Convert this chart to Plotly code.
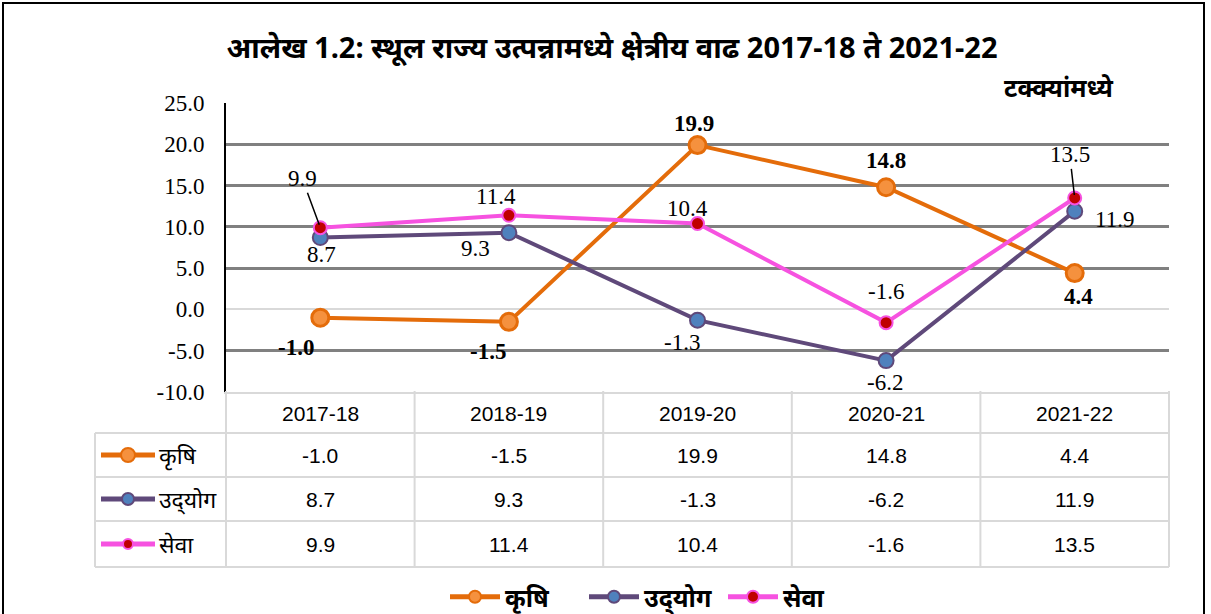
import plotly.graph_objects as go

# ---------------- data ----------------
years = ["2017-18", "2018-19", "2019-20", "2020-21", "2021-22"]
krishi = [-1.0, -1.5, 19.9, 14.8, 4.4]
udyog = [8.7, 9.3, -1.3, -6.2, 11.9]
seva = [9.9, 11.4, 10.4, -1.6, 13.5]
series_names = ["कृषि", "उद्\u200Cयोग", "सेवा"]
y_ticks = [-10, -5, 0, 5, 10, 15, 20, 25]
title_text = "आलेख 1.2: स्थूल राज्य उत्पन्नामध्ये क्षेत्रीय वाढ 2017-18 ते 2021-22"
unit_text = "टक्क्यांमध्ये"

# ---------------- styles ----------------
ORANGE, ORANGE_FILL = "#E46C0A", "#F5913E"
PURPLE, BLUE = "#5F497A", "#4F81BD"
PINK, RED = "#F652E0", "#C00000"
GRID_LIGHT = "#D9D9D9"
SERIF = "Liberation Serif, Times New Roman, serif"
SANS = "Liberation Sans, Arial, sans-serif"
DEVA = "Noto Sans, sans-serif"

styles = [
    dict(line=dict(color=ORANGE, width=4),
         marker=dict(size=17, color=ORANGE_FILL, line=dict(color=ORANGE, width=3))),
    dict(line=dict(color=PURPLE, width=4),
         marker=dict(size=15, color=BLUE, line=dict(color=PURPLE, width=2))),
    dict(line=dict(color=PINK, width=4),
         marker=dict(size=13, color=RED, line=dict(color=PINK, width=2))),
]
all_series = [krishi, udyog, seva]

# label offsets (pixels) per series, per point: (dx, dy), dy positive = up
label_offsets = [
    [(-24, -30), (-21, -30), (-4, 22), (0, 27), (4, -23)],
    [(1, -17), (-33, -16), (-16, -22), (-1, -22), (40, -8)],
    [(-18, 49), (-13, 19), (-10, 15), (0, 31), (-5, 43)],
]
leader = [[False] * 5, [False] * 5, [True, False, False, False, True]]
bold_series = [True, False, False]

# pixel geometry helpers (plot area: x 226..1169, y 103..392)
W, H = 1211, 614
L, R, T, B = 226, 1169, 103, 392
def pxx(x):
    return (x - L) / (R - L)
def pxy(y):
    return (B - y) / (B - T)

fig = go.Figure()
for name, vals, st in zip(series_names, all_series, styles):
    fig.add_trace(go.Scatter(x=years, y=vals, name=f"<b>{name}</b>", mode="lines+markers",
                             line=st["line"], marker=st["marker"]))

annotations = []
for si, vals in enumerate(all_series):
    for i, (yr, v) in enumerate(zip(years, vals)):
        dx, dy = label_offsets[si][i]
        txt = f"{v:.1f}"
        if bold_series[si]:
            txt = f"<b>{txt}</b>"
        if leader[si][i]:
            annotations.append(dict(x=yr, y=v, xref="x", yref="y", text=txt,
                                    showarrow=True, arrowhead=0, arrowwidth=1.5,
                                    arrowcolor="black", ax=dx, ay=-dy, standoff=3,
                                    font=dict(family=SERIF, size=23, color="black")))
        else:
            annotations.append(dict(x=yr, y=v, xref="x", yref="y", text=txt,
                                    showarrow=False, xshift=dx, yshift=dy,
                                    font=dict(family=SERIF, size=23, color="black")))

# ---------------- data table below the plot ----------------
row_y = [413, 455, 499, 544]          # centers in px
row_edges = [393, 433, 477, 521, 567]  # horizontal borders in px
shapes = []
line_style = dict(color=GRID_LIGHT, width=2)
shapes.append(dict(type="line", xref="paper", yref="paper", x0=0, x1=1,
                   y0=pxy(row_edges[0]), y1=pxy(row_edges[0]), line=line_style))
for ye in row_edges[1:]:
    shapes.append(dict(type="line", xref="paper", yref="paper", x0=pxx(95), x1=1,
                       y0=pxy(ye), y1=pxy(ye), line=line_style))
n = len(years)
for i in range(n + 1):
    shapes.append(dict(type="line", xref="paper", yref="paper", x0=i / n, x1=i / n,
                       y0=pxy(row_edges[0] - 2), y1=pxy(row_edges[-1]), line=line_style))
shapes.append(dict(type="line", xref="paper", yref="paper", x0=pxx(95), x1=pxx(95),
                   y0=pxy(row_edges[1]), y1=pxy(row_edges[-1]), line=line_style))

for yr in years:
    annotations.append(dict(x=yr, y=pxy(row_y[0]), xref="x", yref="paper", text=yr,
                            showarrow=False, yanchor="middle", xanchor="center",
                            font=dict(family=SANS, size=21, color="black")))
for si, (name, vals, st) in enumerate(zip(series_names, all_series, styles)):
    yc = pxy(row_y[si + 1])
    for yr, v in zip(years, vals):
        annotations.append(dict(x=yr, y=yc, xref="x", yref="paper", text=f"{v:.1f}",
                                showarrow=False, yanchor="middle", xanchor="center",
                                font=dict(family=SANS, size=21, color="black")))
    shapes.append(dict(type="line", xref="paper", yref="paper", x0=pxx(101), x1=pxx(155),
                       y0=yc, y1=yc, line=dict(color=st["line"]["color"], width=5)))
    r = st["marker"]["size"] / 2 - 1.5
    shapes.append(dict(type="circle", xref="paper", yref="paper",
                       xsizemode="pixel", ysizemode="pixel",
                       xanchor=pxx(128), yanchor=yc, x0=-r, x1=r, y0=-r, y1=r,
                       fillcolor=st["marker"]["color"],
                       line=dict(color=st["marker"]["line"]["color"], width=2)))
    annotations.append(dict(x=pxx(157), y=yc, xref="paper", yref="paper", text=name,
                            xanchor="left", yanchor="middle", showarrow=False,
                            font=dict(family=DEVA, size=23, color="black")))

# unit text
annotations.append(dict(x=pxx(1116), y=pxy(87), xref="paper", yref="paper",
                        text=f"<b>{unit_text}</b>", xanchor="right", yanchor="middle",
                        showarrow=False,
                        font=dict(family=DEVA, size=25, color="black")))

# outer frame
shapes.append(dict(type="rect", xref="paper", yref="paper", x0=pxx(3), x1=pxx(1204),
                   y0=pxy(640), y1=pxy(3), line=dict(color="black", width=2)))

yticktext = [f"{v:.1f}" for v in y_ticks]

fig.update_layout(
    width=W, height=H,
    margin=dict(l=L, r=W - R, t=T, b=H - B, autoexpand=False),
    paper_bgcolor="white", plot_bgcolor="white",
    title=dict(text=f"<b>{title_text}</b>", x=612 / W, xanchor="center",
               y=1 - 48 / H, yanchor="middle",
               font=dict(family=DEVA, size=29, color="black")),
    xaxis=dict(type="category", range=[-0.5, 4.5], showticklabels=False,
               showgrid=False, zeroline=False, showline=True,
               linecolor=GRID_LIGHT, linewidth=2, fixedrange=True),
    yaxis=dict(range=[-10, 25], tickvals=y_ticks, ticktext=yticktext,
               showgrid=True, gridcolor="#808080", gridwidth=2.5,
               zeroline=True, zerolinecolor=GRID_LIGHT, zerolinewidth=2,
               showline=True, linecolor="black", linewidth=2,
               ticks="", ticklabelstandoff=15,
               tickfont=dict(family=SERIF, size=23, color="black")),
    showlegend=True,
    legend=dict(orientation="h", xref="container", yref="container",
                x=445 / W, xanchor="left", y=1 - 597 / H, yanchor="middle",
                itemwidth=50, itemsizing="constant", entrywidth=74,
                font=dict(family=DEVA, size=25, color="black"),
                bgcolor="rgba(0,0,0,0)"),
    annotations=annotations,
    shapes=shapes,
)

fig.write_html("out.html", config={"displayModeBar": False},
               post_script="document.body.style.margin='0';document.body.style.padding='0';")
